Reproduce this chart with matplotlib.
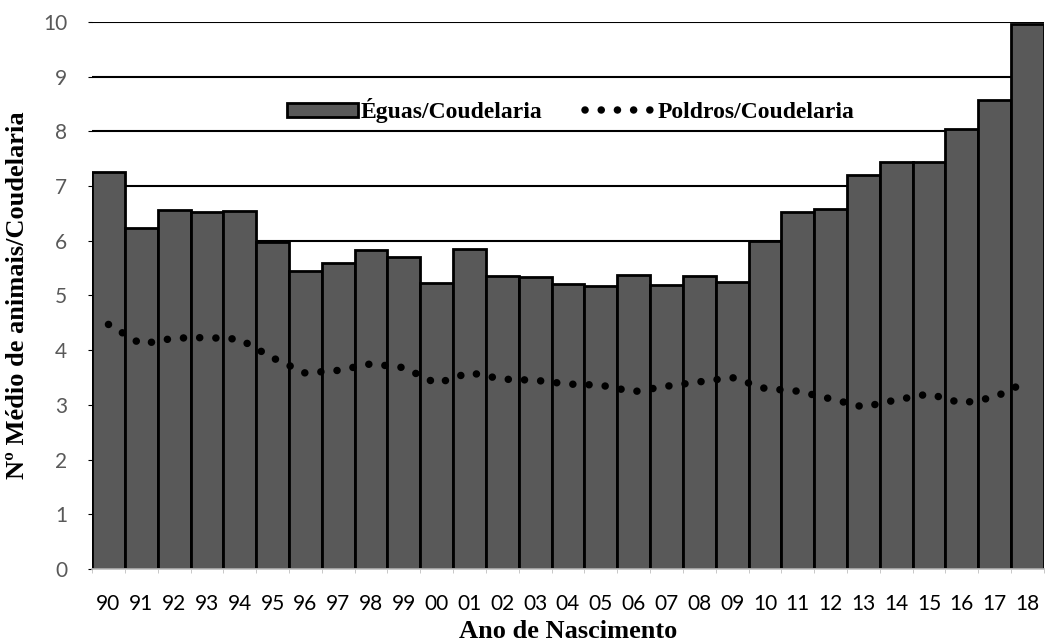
import matplotlib.pyplot as plt
import numpy as np

anos = ["90", "91", "92", "93", "94", "95", "96", "97", "98", "99",
        "00", "01", "02", "03", "04", "05", "06", "07", "08", "09",
        "10", "11", "12", "13", "14", "15", "16", "17", "18"]
eguas = [7.26, 6.24, 6.56, 6.53, 6.54, 5.98, 5.44, 5.59, 5.83, 5.70,
         5.22, 5.84, 5.36, 5.33, 5.20, 5.18, 5.37, 5.19, 5.35, 5.25,
         5.99, 6.52, 6.58, 7.21, 7.43, 7.43, 8.04, 8.57, 9.96]
poldros = [4.47, 4.11, 4.22, 4.23, 4.20, 3.86, 3.58, 3.63, 3.75, 3.68,
           3.39, 3.59, 3.47, 3.45, 3.38, 3.36, 3.24, 3.34, 3.42, 3.50,
           3.30, 3.25, 3.11, 2.96, 3.09, 3.20, 3.03, 3.14, 3.43]
yticks = list(range(0, 11))

fig = plt.figure(figsize=(10.46, 6.44), dpi=100)
ax = fig.add_axes([0.088, 0.1165, 0.91, 0.8495])

x = np.arange(len(anos))
barras = ax.bar(x, eguas, width=1.0, color="#595959", edgecolor="black",
                linewidth=2.0, zorder=2, label="Éguas/Coudelaria")
linha, = ax.plot(x, poldros, color="black", linewidth=5.4,
                 linestyle=(0, (0.01, 2.15)), dash_capstyle="round",
                 zorder=3, label="Poldros/Coudelaria")

ax.set_xlim(-0.5, len(anos) - 0.5)
ax.set_ylim(0, 10)
ax.set_yticks(yticks)
ax.set_xticks(x)
ax.set_xticklabels(anos)
ax.set_xticks(np.arange(len(anos) + 1) - 0.5, minor=True)

ax.grid(axis="y", color="black", linewidth=1.5, zorder=0)
ax.set_axisbelow(True)
for s in ["top", "right", "left"]:
    ax.spines[s].set_visible(False)
ax.spines["bottom"].set_color("#bfbfbf")
ax.spines["bottom"].set_linewidth(1.2)
ax.spines["bottom"].set_zorder(4)

ax.tick_params(axis="y", length=3, color="black", labelcolor="#595959",
               labelsize=15, pad=15)
ax.tick_params(axis="x", which="major", length=0, labelcolor="black",
               labelsize=15, pad=18)
ax.tick_params(axis="x", which="minor", length=3, color="#bfbfbf")
for lab in ax.get_xticklabels() + ax.get_yticklabels():
    lab.set_family("Lato")

ax.set_ylabel("Nº Médio de animais/Coudelaria", family="Liberation Serif",
              fontweight="bold", fontsize=19, labelpad=10)
ax.set_xlabel("Ano de Nascimento", family="Liberation Serif",
              fontweight="bold", fontsize=19, labelpad=4)

leg = ax.legend(handles=[barras, linha], loc="center",
                bbox_to_anchor=(0.503, 0.838), ncol=2,
                frameon=False, handlelength=3.0, handleheight=0.55,
                handletextpad=0.1, columnspacing=1.8,
                prop={"family": "Liberation Serif", "weight": "bold", "size": 17})

fig.savefig("out.png", dpi=100)
